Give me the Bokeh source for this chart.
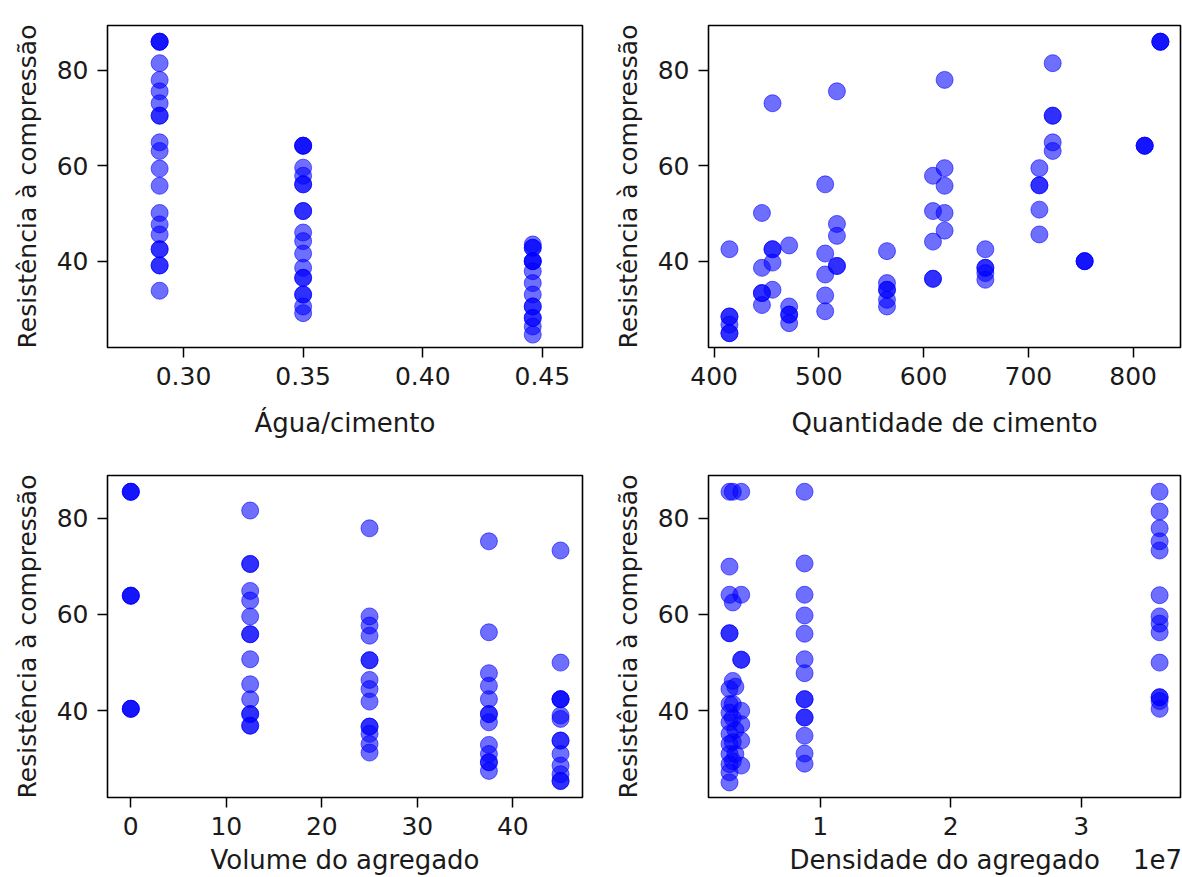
from bokeh.plotting import figure
from bokeh.layouts import column, row
from bokeh.models import (FixedTicker, NumeralTickFormatter, CustomJSTickFormatter,
                          Range1d)
from bokeh.embed import file_html
from bokeh.resources import INLINE

# ---------------- data ----------------
Y_LABEL = "Resistência à compressão"

# 1) Água/cimento
wc_x = ([0.29] * 21) + ([0.35] * 19) + ([0.446] * 15)
wc_y = [86, 86, 86, 81.5, 78, 75.6, 73.1, 70.5, 70.5, 64.9, 63.1, 59.4, 55.8, 50.1,
        47.7, 45.6, 42.5, 42.5, 39.1, 39.1, 33.8,
        64.2, 64.2, 64.2, 59.6, 57.9, 56.1, 56.1, 50.5, 50.5, 46.0, 44.2, 41.6, 38.6,
        36.5, 36.5, 33.0, 33.0, 30.5, 29.1,
        43.5, 42.8, 42.8, 40.0, 40.0, 40.0, 37.9, 35.4, 33.0, 30.5, 30.5, 28.1, 28.1,
        26.3, 24.6]

# 2) Quantidade de cimento
cem_x = ([414.6] * 6 + [445.6] * 5 + [455.7] * 5 + [471.6] * 5 + [506] * 5 +
         [517.2] * 5 + [565] * 6 + [608.9] * 5 + [620] * 5 + [658.9] * 5 +
         [710.5] * 5 + [723.2] * 5 + [753.7] * 3 + [811] * 3 + [826] * 3)
cem_y = [42.5, 28.4, 28.4, 26.7, 24.9, 24.9,
         50.1, 38.6, 33.3, 33.3, 30.8,
         73.1, 42.5, 42.5, 39.7, 34.0,
         43.3, 30.5, 28.8, 28.8, 27.0,
         56.1, 41.6, 37.2, 32.8, 29.5,
         75.6, 47.8, 45.3, 39.0, 39.0,
         42.1, 35.4, 34.0, 34.0, 31.9, 30.5,
         57.9, 50.5, 44.1, 36.3, 36.3,
         78.0, 59.5, 55.8, 50.1, 46.4,
         42.5, 38.6, 38.6, 37.5, 36.1,
         59.5, 55.9, 55.9, 50.8, 45.6,
         81.5, 70.5, 70.5, 64.9, 63.1,
         40.0, 40.0, 40.0,
         64.2, 64.2, 64.2,
         86.0, 86.0, 86.0]

# 3) Volume do agregado
vol_x = [0] * 9 + [12.5] * 15 + [25] * 14 + [37.5] * 13 + [45] * 14
vol_y = [85.5, 85.5, 85.5, 63.9, 63.9, 63.9, 40.4, 40.4, 40.4,
         81.6, 70.5, 70.5, 64.9, 62.9, 59.6, 55.9, 55.9, 50.7, 45.5, 42.4, 39.3, 39.3,
         36.9, 36.9,
         77.9, 59.6, 57.7, 55.6, 50.5, 50.5, 46.4, 44.5, 41.9, 36.7, 36.7, 35.2, 33.1,
         31.3,
         75.2, 56.3, 47.8, 45.2, 42.4, 39.3, 39.3, 37.6, 32.9, 31.0, 29.3, 29.3, 27.5,
         73.3, 50.0, 42.4, 42.4, 42.4, 39.0, 38.3, 33.8, 33.8, 31.0, 28.6, 26.8, 25.4,
         25.4]

# 4) Densidade do agregado
den_x = ([3.05e6] * 15 + [3.3e6] * 7 + [3.5e6] * 3 + [3.95e6] * 8 +
         [8.8e6] * 14 + [3.6e7] * 14)
den_y = [85.5, 69.95, 64.1, 56.1, 56.1, 44.5, 41.4, 39.6, 37.6, 35.2, 33.1, 31.0, 28.9,
         27.2, 25.1,
         85.5, 62.5, 46.2, 41.4, 38.5, 33.5, 29.5,
         45.0, 36.0, 31.0,
         85.5, 64.1, 50.6, 50.6, 40.0, 37.2, 33.8, 28.6,
         85.5, 70.6, 64.1, 59.8, 56.0, 50.7, 47.8, 42.4, 42.4, 38.6, 38.6, 34.8, 31.1,
         29.0,
         85.5, 81.4, 77.9, 75.2, 73.3, 64.0, 59.6, 58.1, 56.3, 50.0, 42.8, 42.8, 42.0,
         40.4]

OFFSET_TEXT = "1e7"
NB = "\u00a0"
# axis label with the scale-offset text on its right (kept centred on the frame)
DEN_LABEL = NB * 10 + "Densidade do agregado" + NB * 4 + OFFSET_TEXT

FONT = "DejaVu Sans"
FS = "25px"
FS_XL = "26px"


def make(width, height, xr, yr, xticks, xlabel, borders, xstand):
    p = figure(width=width, height=height, output_backend="svg", toolbar_location=None,
               x_range=Range1d(*xr), y_range=Range1d(*yr),
               min_border_left=borders[0], min_border_right=borders[1],
               min_border_top=borders[2], min_border_bottom=borders[3])
    p.grid.visible = False
    p.outline_line_color = "black"
    p.outline_line_width = 1.6
    p.background_fill_color = "white"
    p.border_fill_color = "white"
    for ax in (p.xaxis[0], p.yaxis[0]):
        ax.axis_line_color = None
        ax.major_tick_line_color = "black"
        ax.major_tick_line_width = 1.5
        ax.major_tick_out = 10
        ax.major_tick_in = 0
        ax.minor_tick_line_color = None
        ax.major_label_text_font = FONT
        ax.major_label_text_font_size = FS
        ax.major_label_text_color = "#1a1a1a"
        ax.axis_label_text_font = FONT
        ax.axis_label_text_font_size = FS
        ax.axis_label_text_font_style = "normal"
        ax.axis_label_text_color = "#1a1a1a"
    p.xaxis.axis_label_text_font_size = FS_XL
    p.xaxis.ticker = FixedTicker(ticks=xticks)
    p.yaxis.ticker = FixedTicker(ticks=[40, 60, 80])
    p.xaxis.axis_label = xlabel
    p.yaxis.axis_label = Y_LABEL
    p.yaxis.major_label_standoff = 9
    p.yaxis.axis_label_standoff = 12
    p.xaxis.major_label_standoff = xstand[0]
    p.xaxis.axis_label_standoff = xstand[1]
    return p


def pts(p, x, y):
    p.scatter(x, y, size=17, fill_color="blue", line_color="blue",
              fill_alpha=0.57, line_alpha=0.57, line_width=1)


p1 = make(608, 449, (0.2682, 0.4668), (21.9, 89.4), [0.30, 0.35, 0.40, 0.45],
          "Água/cimento", (107, 26, 25, 102), (9, 20))
p1.xaxis.formatter = NumeralTickFormatter(format="0.00")
pts(p1, wc_x, wc_y)

p2 = make(574, 449, (394.6, 845.2), (21.9, 89.4), [400, 500, 600, 700, 800],
          "Quantidade de cimento", (100, 2, 25, 102), (9, 20))
pts(p2, cem_x, cem_y)

p3 = make(608, 428, (-2.44, 47.3), (21.97, 88.88), [0, 10, 20, 30, 40],
          "Volume do agregado", (107, 26, 26, 80), (9, 7))
pts(p3, vol_x, vol_y)

p4 = make(574, 428, (0.144e7, 3.76e7), (21.97, 88.88), [1e7, 2e7, 3e7],
          DEN_LABEL, (100, 2, 26, 80), (9, 7))
p4.xaxis.formatter = CustomJSTickFormatter(code="return (tick/1e7).toFixed(0);")
pts(p4, den_x, den_y)

layout = column(row(p1, p2), row(p3, p4))
open("out.html", "w").write(file_html(layout, INLINE))
